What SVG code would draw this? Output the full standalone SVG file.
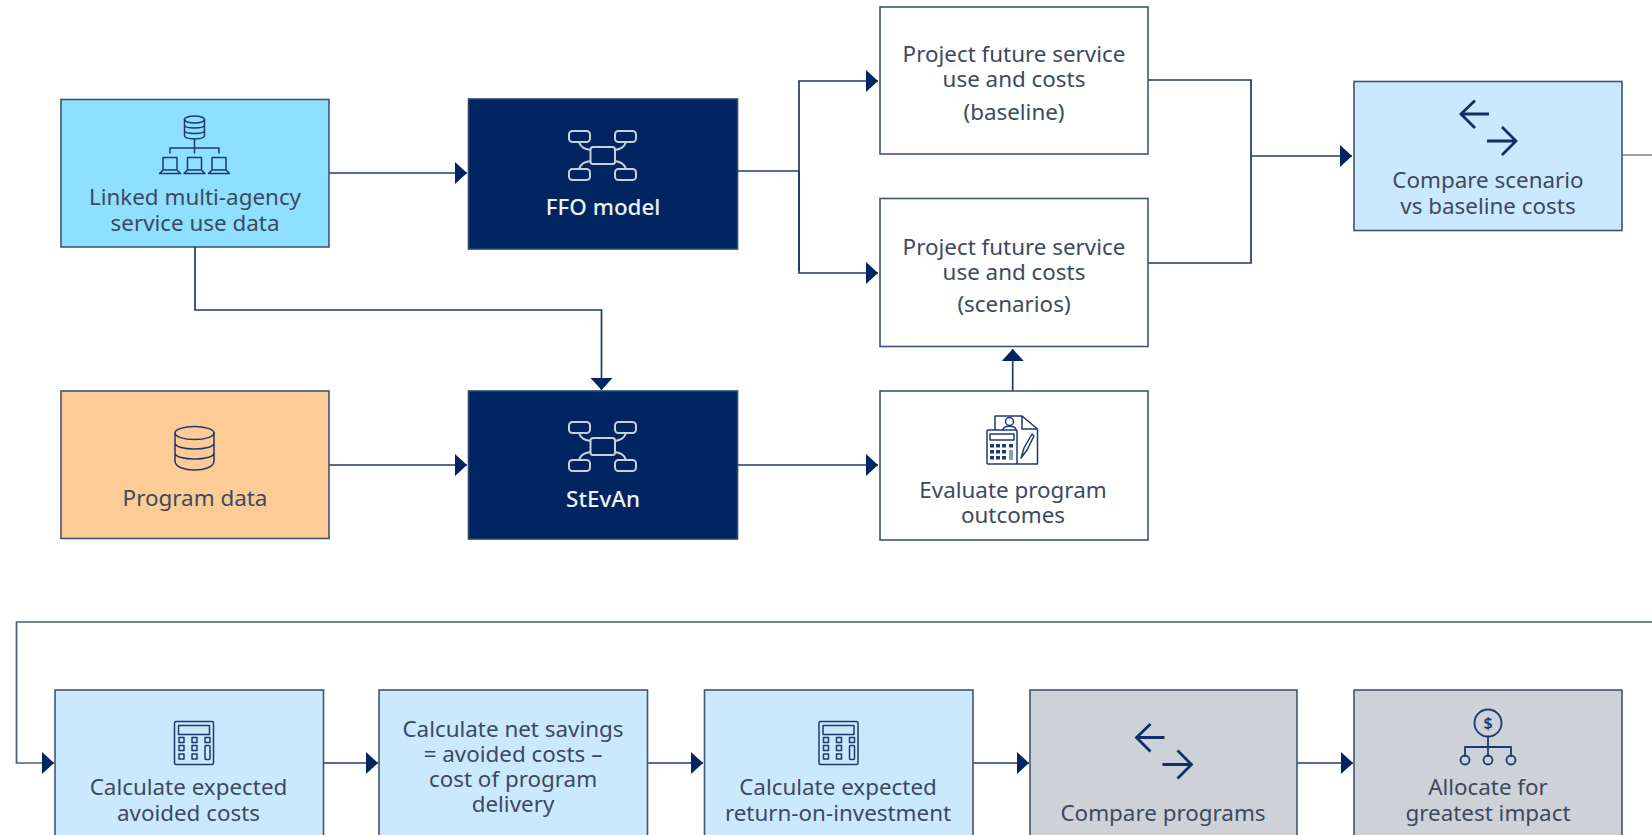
<svg xmlns="http://www.w3.org/2000/svg" width="1652" height="835" viewBox="0 0 1652 835">
<style>
.box{stroke:#3f5473;stroke-width:1.6}
.w{fill:#fff}.lb{fill:#cae9fe}.cy{fill:#8fdfff}.or{fill:#fdcb96}.gr{fill:#ccd2d8}.nv{fill:#002560;stroke:#2b4570}
text{font-family:"Noto Sans","Liberation Sans",sans-serif;font-size:22.400px;fill:#3c4a5e;text-anchor:middle}
.inv{fill:#eef1f6;font-weight:500}
.c{fill:none;stroke:#1f3a68;stroke-width:1.7}
.ic{fill:none;stroke:#1d3a6e;stroke-width:1.5;stroke-linejoin:round;stroke-linecap:round}
.ar{fill:none;stroke:#0f2f66;stroke-width:2.800}
.nt{fill:none;stroke:#c9d0dc;stroke-width:2}
</style>
<defs>
<marker id="ah" markerUnits="userSpaceOnUse" markerWidth="13" markerHeight="22" refX="12" refY="11" orient="auto"><path d="M0 0L12 11L0 22Z" fill="#002560"/></marker>
<g id="net"><rect x="569" y="131" width="21" height="11" rx="3.500"/><rect x="615" y="131" width="21" height="11" rx="3.500"/><rect x="569" y="169" width="21" height="11" rx="3.500"/><rect x="615" y="169" width="21" height="11" rx="3.500"/><rect x="590.500" y="147" width="24.500" height="17" rx="2.500"/><path d="M579 142C581 148 585 149 590.500 150M626 142C624 148 620 149 615 150M579 169C581 163 585 162 590.500 161M626 169C624 163 620 162 615 161"/></g>
<g id="swap"><path d="M1489 114H1461M1475 100.500L1461 114L1475 128M1487 141H1516M1502 127L1516 141L1502 155"/></g>
<g id="calc"><rect x="174.500" y="721.500" width="39" height="43" rx="1.500"/><rect x="178.500" y="725.500" width="31" height="9"/><rect x="179" y="737.500" width="5" height="5"/><rect x="192" y="737.500" width="5" height="5"/><rect x="205" y="737.500" width="5" height="5"/><rect x="179" y="745.500" width="5" height="5"/><rect x="192" y="745.500" width="5" height="5"/><rect x="179" y="754" width="5" height="5"/><rect x="192" y="754" width="5" height="5"/><rect x="205" y="745.500" width="5" height="14" rx="1"/></g>
<g id="lap"><path d="M-7 157.500H7V170H-7ZM-7 170L-10.500 173.500H10.500L7 170"/></g>
</defs>
<rect width="1652" height="835" fill="#fff"/>
<g id="connectors">
<path class="c" marker-end="url(#ah)" d="M329 173H467"/>
<path class="c" marker-end="url(#ah)" d="M195 247V310H601.500V390"/>
<path class="c" marker-end="url(#ah)" d="M329 465H467"/>
<path class="c" d="M737 171H799"/>
<path class="c" marker-end="url(#ah)" d="M799 271V81H878"/>
<path class="c" marker-end="url(#ah)" d="M799 171V273H878"/>
<path class="c" d="M1148 80H1251V263H1148"/>
<path class="c" marker-end="url(#ah)" d="M1251 156H1352"/>
<path class="c" marker-end="url(#ah)" d="M737 465H878"/>
<path class="c" marker-end="url(#ah)" d="M1012.700 391V349"/>
<path class="c" d="M1622 155H1652" style="stroke:#8f8fa8"/>
<path class="c" marker-end="url(#ah)" d="M1652 622H16.500V763H54" style="stroke:#4a5d7c"/>
<path class="c" marker-end="url(#ah)" d="M324 763H378"/>
<path class="c" marker-end="url(#ah)" d="M648 763H703"/>
<path class="c" marker-end="url(#ah)" d="M973 763H1029"/>
<path class="c" marker-end="url(#ah)" d="M1297 763H1353"/>
</g>
<g id="linked"><rect class="box cy" x="61" y="99.500" width="268" height="147.500"/>
<g class="ic"><ellipse cx="194.500" cy="119.500" rx="10" ry="3.500"/><path d="M184.500 119.500V135.500C184.500 140 204.500 140 204.500 135.500V119.500M184.500 125C184.500 129 204.500 129 204.500 125M184.500 130.500C184.500 134.500 204.500 134.500 204.500 130.500M194.500 140V153M170 153V148H219V153"/>
<use href="#lap" x="170"/><use href="#lap" x="194.500"/><use href="#lap" x="219"/></g>
<text x="195" y="205">Linked multi-agency</text><text x="195" y="231">service use data</text></g>
<g id="ffo"><rect class="box nv" x="468.500" y="99" width="269" height="150"/><use href="#net" class="nt"/><text class="inv" x="603" y="215">FFO model</text></g>
<g id="baseline"><rect class="box w" x="880" y="7" width="268" height="147"/><text x="1014" y="62">Project future service</text><text x="1014" y="87">use and costs</text><text x="1014" y="120">(baseline)</text></g>
<g id="scenarios"><rect class="box w" x="880" y="198.500" width="268" height="148"/><text x="1014" y="255">Project future service</text><text x="1014" y="280">use and costs</text><text x="1014" y="312">(scenarios)</text></g>
<g id="compare"><rect class="box lb" x="1354" y="81.500" width="268" height="149"/><use href="#swap" class="ar"/><text x="1488" y="188">Compare scenario</text><text x="1488" y="214">vs baseline costs</text></g>
<g id="program"><rect class="box or" x="61" y="391" width="268" height="147.500"/>
<g class="ic"><ellipse cx="194.500" cy="433" rx="19.500" ry="6.500"/><path d="M175 433V461C175 473 214 473 214 461V433M175 443C175 451 214 451 214 443M175 453C175 461 214 461 214 453"/></g>
<text x="195" y="506">Program data</text></g>
<g id="stevan"><rect class="box nv" x="468.500" y="391" width="269" height="148"/><use href="#net" y="291" class="nt"/><text class="inv" x="603" y="507">StEvAn</text></g>
<g id="evaluate"><rect class="box w" x="880" y="391" width="268" height="149"/>
<g class="ic"><path d="M995 430V416H1022L1037.500 429V464H1017M1022 416V429H1037.500"/><circle cx="1009.500" cy="421.500" r="4"/><path d="M1003 430C1003 425 1016 425 1016 430"/><path d="M1021 458L1024 448L1032 434L1034 436L1027 450Z"/>
<rect x="987" y="430" width="30" height="34" rx="1"/><rect x="990" y="434" width="24" height="6"/></g>
<g fill="#1d3a6e"><rect x="990" y="444" width="4" height="3.500"/><rect x="996" y="444" width="4" height="3.500"/><rect x="1002" y="444" width="4" height="3.500"/><rect x="1009" y="444" width="4" height="3.500"/><rect x="990" y="450" width="4" height="3.500"/><rect x="996" y="450" width="4" height="3.500"/><rect x="1002" y="450" width="4" height="3.500"/><rect x="990" y="456" width="4" height="3.500"/><rect x="996" y="456" width="4" height="3.500"/><rect x="1002" y="456" width="4" height="3.500"/><rect x="1009" y="450" width="4" height="10" opacity=".5"/></g>
<text x="1013" y="498">Evaluate program</text><text x="1013" y="523">outcomes</text></g>
<g id="avoided"><rect class="box lb" x="55" y="690" width="268.500" height="160"/><use href="#calc" class="ic"/><text x="188.500" y="795">Calculate expected</text><text x="188.500" y="821">avoided costs</text></g>
<g id="savings"><rect class="box lb" x="379" y="690" width="268.500" height="160"/><text x="513" y="737">Calculate net savings</text><text x="513" y="762">= avoided costs –</text><text x="513" y="787">cost of program</text><text x="513" y="812">delivery</text></g>
<g id="roi"><rect class="box lb" x="704.500" y="690" width="268.500" height="160"/><use href="#calc" x="644.500" class="ic"/><text x="838" y="795">Calculate expected</text><text x="838" y="821">return-on-investment</text></g>
<g id="programs"><rect class="box gr" x="1030" y="690" width="267" height="160"/><use href="#swap" x="-324.500" y="623.500" class="ar"/><text x="1163" y="821">Compare programs</text></g>
<g id="allocate"><rect class="box gr" x="1354" y="690" width="268" height="160"/>
<g class="ic" style="stroke-width:1.8"><circle cx="1488" cy="723" r="13.500"/><path d="M1488 736.500V756M1465 756V747H1511V756"/><circle cx="1465" cy="760" r="4.500"/><circle cx="1488" cy="760" r="4.500"/><circle cx="1511" cy="760" r="4.500"/></g>
<text x="1488" y="729" style="font-size:16px;fill:#1d3a6e;font-weight:600">$</text>
<text x="1488" y="795">Allocate for</text><text x="1488" y="821">greatest impact</text></g>
</svg>
